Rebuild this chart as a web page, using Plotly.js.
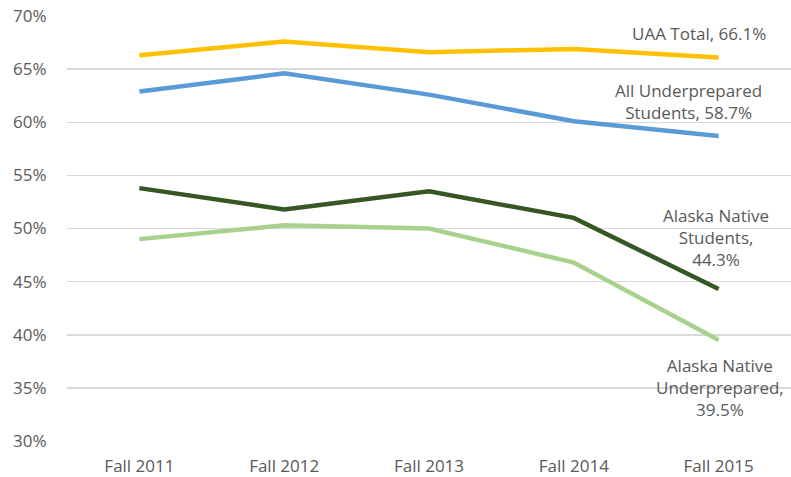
<!DOCTYPE html>
<html>
<head>
<meta charset="utf-8">
<script src="https://cdn.plot.ly/plotly-3.0.1.min.js"></script>
<style>html,body{margin:0;padding:0;background:#fff;}#chart{width:791px;height:477px;}</style>
</head>
<body>
<div id="chart"></div>
<script>
const categories = ["Fall 2011", "Fall 2012", "Fall 2013", "Fall 2014", "Fall 2015"];
const uaaTotal = [66.3, 67.6, 66.6, 66.9, 66.1];
const allUnderprepared = [62.9, 64.6, 62.6, 60.1, 58.7];
const alaskaNativeStudents = [53.8, 51.8, 53.5, 51.0, 44.3];
const alaskaNativeUnderprepared = [49.0, 50.3, 50.0, 46.8, 39.5];
const seriesNames = ["UAA Total", "All Underprepared Students", "Alaska Native Students", "Alaska Native Underprepared"];
const labelTexts = ["UAA Total, 66.1%", "All Underprepared<br>Students, 58.7%", "Alaska Native<br>Students,<br>44.3%", "Alaska Native<br>Underprepared,<br>39.5%"];
const yTickVals = [30, 35, 40, 45, 50, 55, 60, 65, 70];
const yTickText = ["30%", "35%", "40%", "45%", "50%", "55%", "60%", "65%", "70%"];

const FONT = "'Open Sans', 'Noto Sans', sans-serif";
const TXT = "#595959";
const colors = ["#FFC000", "#5B9BD5", "#375623", "#A9D18E"];
const values = [uaaTotal, allUnderprepared, alaskaNativeStudents, alaskaNativeUnderprepared];

const traces = values.map((v, i) => ({
  type: "scatter", mode: "lines", x: categories, y: v, name: seriesNames[i],
  line: {color: colors[i], width: 4.5}, hoverinfo: "skip"
}));

const labelPos = [[0.873, 0.959], [0.858, 0.799], [0.896, 0.479], [0.902, 0.126]];
const annotations = labelTexts.map((t, i) => ({
  text: t, xref: "paper", yref: "paper", x: labelPos[i][0], y: labelPos[i][1],
  xanchor: "center", yanchor: "middle", showarrow: false, align: "center",
  font: {family: FONT, size: 17, color: TXT}
}));

const layout = {
  width: 791, height: 477,
  margin: {l: 67, r: 0, t: 16, b: 36, pad: 0},
  paper_bgcolor: "#fff", plot_bgcolor: "#fff",
  showlegend: false,
  font: {family: FONT, size: 17, color: TXT},
  xaxis: {type: "category", range: [-0.5, 4.5], showgrid: false, zeroline: false, showline: false,
          ticks: "outside", ticklen: 10, tickcolor: "rgba(0,0,0,0)", tickfont: {family: FONT, size: 17, color: TXT}},
  yaxis: {range: [30, 70], tickvals: yTickVals, ticktext: yTickText, showgrid: true, gridcolor: "#D9D9D9", gridwidth: 1.5,
          zeroline: false, showline: false, ticks: "outside", ticklen: 16, tickcolor: "rgba(0,0,0,0)",
          tickfont: {family: FONT, size: 17, color: TXT}},
  annotations: annotations
};

Plotly.newPlot("chart", traces, layout, {staticPlot: true, displayModeBar: false});
</script>
</body>
</html>
